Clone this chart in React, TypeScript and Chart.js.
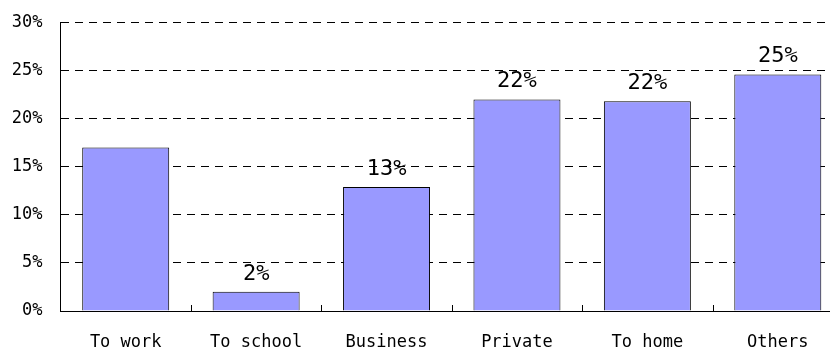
import React, { useEffect, useRef } from "react";
import { Chart, registerables } from "chart.js";

Chart.register(...registerables);

const categories = ["To work", "To school", "Business", "Private", "To home", "Others"];
const shares = [17, 2, 12.9, 22, 21.8, 24.6];
const shareLabels = ["", "2%", "13%", "22%", "22%", "25%"];
const yTicks = [0, 5, 10, 15, 20, 25, 30];

const MONO = "'DejaVu Sans Mono', 'Liberation Mono', monospace";

const valueLabelPlugin = {
  id: "valueLabels",
  afterDatasetsDraw(chart: any) {
    const meta = chart.getDatasetMeta(0);
    const ctx = chart.ctx;
    ctx.save();
    ctx.fillStyle = "#000";
    ctx.font = `22px ${MONO}`;
    ctx.textAlign = "center";
    ctx.textBaseline = "alphabetic";
    meta.data.forEach((bar: any, i: number) => {
      const t = shareLabels[i];
      if (t) ctx.fillText(t, bar.x, bar.y - 12);
    });
    ctx.restore();
  },
};

const innerTicksPlugin = {
  id: "innerTicks",
  afterDraw(chart: any) {
    const x = chart.scales.x;
    const area = chart.chartArea;
    const ctx = chart.ctx;
    ctx.save();
    ctx.strokeStyle = "#000";
    ctx.lineWidth = 1;
    const n = categories.length;
    for (let i = 1; i <= n; i++) {
      const px = Math.round((x.getPixelForValue(i - 1) + x.getPixelForValue(i)) / 2) + 0.5;
      ctx.beginPath();
      ctx.moveTo(px, area.bottom);
      ctx.lineTo(px, area.bottom - 6);
      ctx.stroke();
    }
    ctx.restore();
  },
};

export default function App() {
  const ref = useRef<HTMLCanvasElement>(null);
  useEffect(() => {
    if (!ref.current) return;
    const chart = new Chart(ref.current, {
      type: "bar",
      data: {
        labels: categories,
        datasets: [
          {
            data: shares,
            backgroundColor: "#9999ff",
            borderColor: "#000",
            borderWidth: 1,
            barPercentage: 0.667,
            categoryPercentage: 1,
          },
        ],
      },
      plugins: [valueLabelPlugin, innerTicksPlugin],
      options: {
        animation: false,
        responsive: true,
        maintainAspectRatio: false,
        layout: { padding: { top: 22.5, right: 3, left: 0, bottom: 0 } },
        plugins: { legend: { display: false }, tooltip: { enabled: false } },
        scales: {
          x: {
            offset: true,
            grid: { display: false, drawTicks: false },
            border: { display: true, color: "#000", width: 1 },
            ticks: {
              color: "#000",
              font: { family: MONO, size: 17 },
              padding: 21,
              maxRotation: 0,
              autoSkip: false,
            },
            afterFit: (s: any) => {
              s.height = 40;
            },
          },
          y: {
            min: 0,
            max: 30,
            afterBuildTicks: (s: any) => {
              s.ticks = yTicks.map((v) => ({ value: v }));
            },
            grid: {
              color: (c: any) => (c.tick && c.tick.value === 0 ? "rgba(0,0,0,0)" : "#000"),
              lineWidth: 1,
              drawTicks: false,
            },
            border: { display: true, color: "#000", width: 1, dash: [8, 6] },
            ticks: {
              color: "#000",
              font: { family: MONO, size: 17 },
              padding: 18,
              callback: (v: any) => `${v}%`,
            },
            afterFit: (s: any) => {
              s.width = 60.5;
              s.paddingTop = 0;
              s.paddingBottom = 0;
            },
          },
        },
      },
    });
    return () => chart.destroy();
  }, []);
  return (
    <div
      style={{
        position: "fixed",
        left: 0,
        top: 0,
        width: 830,
        height: 351,
        overflow: "hidden",
        background: "#fff",
      }}
    >
      <div style={{ position: "relative", width: 846, height: 351 }}>
        <canvas ref={ref} />
      </div>
    </div>
  );
}
